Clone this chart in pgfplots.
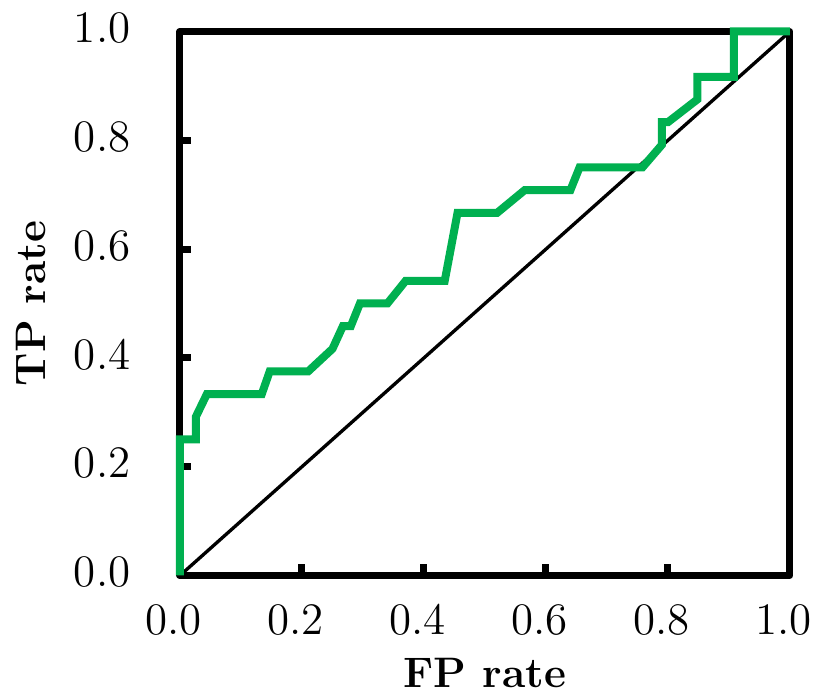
\documentclass[border=0pt]{standalone}
\usepackage{pgfplots}
\pgfplotsset{compat=1.18}
\definecolor{roc}{HTML}{00B050}
\begin{document}
\begin{tikzpicture}
\path[use as bounding box] (-54pt,-35.25pt) rectangle (190.5pt,172.65pt);
\begin{axis}[scale only axis,width=183pt,height=163.2pt,
  at={(0,0)},anchor=south west,
  xmin=0,xmax=1,ymin=0,ymax=1,
  xtick={0,0.2,...,1},ytick={0,0.2,...,1},
  xticklabels={0.0,0.2,0.4,0.6,0.8,1.0},yticklabels={0.0,0.2,0.4,0.6,0.8,1.0},
  xtick pos=bottom,ytick pos=left,tick align=inside,
  major tick length=3.3pt,
  axis line style={line width=2.1pt,line join=round},
  every tick/.style={black,line width=2.1pt},
  tick label style={font=\fontsize{13.5}{15}\selectfont,inner sep=0pt},
  xticklabel style={anchor=base,yshift=-17.7pt,xshift=-2pt},
  yticklabel style={anchor=east,xshift=-14.7pt,yshift=1pt},
  label style={font=\fontsize{12.8}{15}\selectfont\bfseries},
  xlabel={FP rate},ylabel={TP rate},
  xlabel style={at={(axis description cs:0.5,-0.2053)},anchor=base},
  ylabel style={at={(axis description cs:-0.2213,0.5)},anchor=base},
  clip=false]
\addplot[black,line width=1pt] coordinates {(0,0) (1,1)};
\addplot[roc,line width=2.4pt,line join=miter] coordinates {
(0,0) (0,0.25) (0.026,0.25) (0.026,0.2917) (0.044,0.3333) (0.134,0.3333)
(0.147,0.375) (0.21,0.375) (0.25,0.4167) (0.267,0.4583) (0.28,0.4583)
(0.295,0.5) (0.34,0.5) (0.37,0.5417) (0.434,0.5417) (0.455,0.6667)
(0.52,0.6667) (0.565,0.7083) (0.64,0.7083) (0.655,0.75) (0.758,0.75)
(0.79,0.7917) (0.79,0.8333) (0.80,0.8333) (0.848,0.875) (0.848,0.9167)
(0.908,0.9167) (0.908,1.0) (1,1)};
\end{axis}
\end{tikzpicture}
\end{document}
